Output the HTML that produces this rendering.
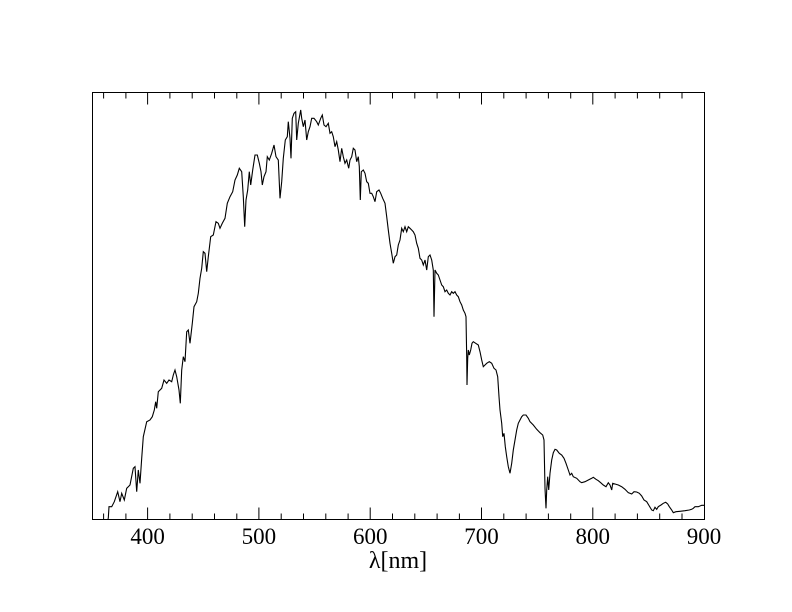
<!DOCTYPE html>
<html>
<head>
<meta charset="utf-8">
<style>
html,body{margin:0;padding:0;background:#fff;}
svg{display:block;}
text{font-family:"Liberation Serif","DejaVu Serif",serif;fill:#000;}
</style>
</head>
<body>
<svg width="792" height="612" viewBox="0 0 792 612" xmlns="http://www.w3.org/2000/svg">
<rect x="0" y="0" width="792" height="612" fill="#fff"/>
<rect x="92.5" y="92.5" width="612" height="427" fill="none" stroke="#000" stroke-width="1"/>
<g stroke="#000" stroke-width="1" fill="none">
<!-- bottom ticks -->
<path d="M103.6 519.5v-6 M125.9 519.5v-6 M147.6 519.5v-12 M169.9 519.5v-6 M192.2 519.5v-6 M214.5 519.5v-6 M236.8 519.5v-6 M258.9 519.5v-12 M281.2 519.5v-6 M303.5 519.5v-6 M325.8 519.5v-6 M348.1 519.5v-6 M370.2 519.5v-12 M392.5 519.5v-6 M414.8 519.5v-6 M437.1 519.5v-6 M459.4 519.5v-6 M481.5 519.5v-12 M503.8 519.5v-6 M526.1 519.5v-6 M548.4 519.5v-6 M570.7 519.5v-6 M592.8 519.5v-12 M615.1 519.5v-6 M637.4 519.5v-6 M659.7 519.5v-6 M682.0 519.5v-6"/>
<!-- top ticks -->
<path d="M103.6 92.5v6 M125.9 92.5v6 M147.6 92.5v12 M169.9 92.5v6 M192.2 92.5v6 M214.5 92.5v6 M236.8 92.5v6 M258.9 92.5v12 M281.2 92.5v6 M303.5 92.5v6 M325.8 92.5v6 M348.1 92.5v6 M370.2 92.5v12 M392.5 92.5v6 M414.8 92.5v6 M437.1 92.5v6 M459.4 92.5v6 M481.5 92.5v12 M503.8 92.5v6 M526.1 92.5v6 M548.4 92.5v6 M570.7 92.5v6 M592.8 92.5v12 M615.1 92.5v6 M637.4 92.5v6 M659.7 92.5v6 M682.0 92.5v6"/>
</g>
<polyline fill="none" stroke="#000" stroke-width="1.1" stroke-linejoin="miter" points="
108,519 108.3,518 109,506.7 111.7,506.7 114.3,501.7 117.7,491.7 120,501.7 121.7,493.3 124.3,500 126.7,488.3 130,485 133.3,468.3 135,466.7 136.7,491.7 138.3,470 140,483.3 141.7,458.3 143.3,436.7 146.7,421.7 150,420 152.3,416.7 154.3,410 155.7,401.7 156.7,408.3 158.3,391.7 161.7,388.3 164,380 166.7,383.3 169,380 171.7,381.7 173.3,375 175,370 176.7,376.7 179,390 180.3,403.3 181.7,370 183.3,356.7 185,361.7 186.7,331.7 188.3,330 190,343.3 192.3,323.3 194,306.7 196.7,301.7 198.3,293.3 200,278.3 201.7,268.3 203.3,251.7 205,253.3 206.7,271.7 208.3,256.7 210.7,236.7 213.3,235 216,221.7 218.3,223.3 220,228.3 222.3,223.3 225,218.3 227.3,203.3 230,196.7 232.7,191.7 235,180 237.3,175 239.3,168.3 241.7,171.7 243.3,196.7 244.7,226.7 246,200 247.7,190 249.3,171.7 250.7,185 252.7,170 255,155 257.3,155 259.3,163.3 261,171.7 262.3,185 264,176.7 266,171.7 267.3,156.7 269.3,160 271.7,153.3 274,145 276,156.7 278.3,160 280,198.3 281.7,181.7 283.3,158.3 285.3,140 287.3,136.7 288.3,121.7 290,138.3 291,158.3 292.3,118.3 294,113.3 295.7,111.7 296.7,140 298.3,123.3 300.7,110 301.7,118.3 303.3,126.7 305,120 306.7,140 308.3,131.7 310,126.7 311.7,118.3 314,118.3 316.7,121.7 318.3,125 320.7,118.3 322.3,115 324,125 326,126.7 328.3,123.3 330,133.3 331.7,131.7 333.3,136.7 335,146.7 336.7,141.7 338.3,150 340,161.7 341.7,148.3 343.3,156.7 345,163.3 346.7,160 348.7,168.3 350,160 351.7,156.7 353.3,148.3 355,150 356.7,161.7 358.3,156.7 359.3,166.7 360.3,200 361.3,171.7 363.3,170 365,173.3 366.7,181.7 368.3,183.3 370,193.3 371.7,193.3 373.3,196.7 375,201.7 376.7,191.7 379,190 380.7,193.3 382.7,198.3 385,203.3 386.7,216.7 388.3,230 390,243.3 391.7,253.3 393.3,263.3 395,256.7 396.7,255 398.3,245 400,240 401.7,228.3 403.3,231.7 405,226.7 406.7,231.7 408.3,226.7 410,228.3 411.7,230 413.3,231.7 415,235 416.7,243.3 418.3,248.3 420,258.3 421.7,260 423.3,265 425,260 426.7,270 428.3,256.7 430,255 431.7,260 433.3,270 434,316.7 435,270 436.7,273.3 438.3,275 440,280 441.7,285 443.3,286.7 445,291.7 446.7,290 448.3,293.3 450,295 451.7,291.7 453.3,293.3 455,291.7 456.7,295 458.3,296.7 460,301.7 461.7,305 463.3,310 465,313.3 466,316.7 466.7,356.7 467,385 467.7,358.3 468.3,350 469.3,355 470.7,350 472,343.3 473.3,341.7 475.7,343.3 478.3,345 480,351.7 481.7,360 483.3,366.7 485,365 486.7,363.3 489.3,361.7 491.7,363.3 494,368.3 496,370 497.7,376.7 499,396.7 500,410 501.7,423.3 502.7,436.7 504,433.3 505.3,446.7 506.7,456.7 508.3,466.7 510,473.3 511.7,463.3 513.3,450 515,440 516.7,430 518.3,423.3 520,420 521.7,416.7 523.3,415 526,415 528.3,418.3 530,421.7 533.3,425 536.7,429.3 540,432.7 542.7,435 544,440 545,488.3 546,508.3 546.7,490 547.7,476.7 548.7,490 550,473.3 551.7,460 553.3,452.7 555,449.3 556.7,450 559.3,453.3 561.7,455 564,458.3 566,463.3 568.3,470 570,475 571.7,473.3 573.3,476.7 576.7,478.3 580,481.7 581.7,482.7 585,481.7 588.3,480 591.7,478.3 593.3,477.3 596,479.3 598.3,480.7 600.7,482.7 603.3,485 606,486.7 608.3,482.7 610,485 611.7,490 612.7,483.3 615,484 618.3,485 621.7,486.7 625,489.3 628.3,492.7 631.7,494 634,491.7 636.7,492 639.3,493.3 641.7,496 644,500 646.7,501.7 649.3,506 651.7,510 653.3,510.7 655,507.3 656.7,509.3 658.3,506.7 661,505 663.3,503.3 665.7,502.3 667.7,504 669.3,506.7 671.7,510 673.3,512.7 676,511.7 680,511.3 685,510.7 689.3,510 691.7,509.3 693.3,508.3 695,506.7 698.3,506.7 701.7,505.3 704,505.3"/>
<g font-size="23" text-anchor="middle">
<text x="147.6" y="544">400</text>
<text x="258.9" y="544">500</text>
<text x="370.2" y="544">600</text>
<text x="481.5" y="544">700</text>
<text x="592.8" y="544">800</text>
<text x="704" y="544">900</text>
</g>
<text x="398" y="568" font-size="24" text-anchor="middle">λ[nm]</text>
</svg>
</body>
</html>
